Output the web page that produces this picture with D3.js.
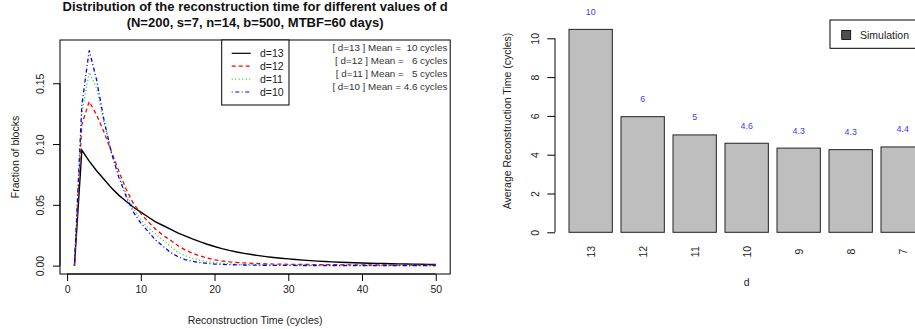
<!DOCTYPE html>
<html>
<head>
<meta charset="utf-8">
<script src="https://cdn.jsdelivr.net/npm/d3@7"></script>
<style>
html,body{margin:0;padding:0;background:#fff;}
svg{display:block;font-family:"Liberation Sans",Arial,sans-serif;}
text{white-space:pre;}
</style>
</head>
<body>
<svg id="chart" width="915" height="329"></svg>
<script>
// ---------- Data: left panel ----------
const times = d3.range(1, 51); // reconstruction time (cycles) 1..50
const d13 = [0,0.095,0.086,0.078,0.071,0.064,0.058,0.053,0.048,0.044,0.040,0.036,0.033,0.030,0.027,0.0245,0.022,0.0197,0.0176,0.0157,0.014,0.0125,0.0112,0.0101,0.0091,0.0082,0.0074,0.0067,0.0061,0.0055,0.0050,0.0045,0.0041,0.0037,0.0034,0.0031,0.0028,0.0026,0.0024,0.0022,0.0020,0.0018,0.0017,0.0015,0.0014,0.0013,0.0012,0.0011,0.0010,0.0009];
const d12 = [0,0.116,0.135,0.124,0.110,0.094,0.078,0.063,0.051,0.043,0.036,0.030,0.025,0.021,0.0165,0.013,0.0102,0.008,0.0062,0.0048,0.0038,0.0031,0.0026,0.0022,0.0019,0.0017,0.0015,0.0013,0.0012,0.0011,0.0010,0.0009,0.0009,0.0008,0.0008,0.0007,0.0007,0.0006,0.0006,0.0006,0.0005,0.0005,0.0005,0.0005,0.0004,0.0004,0.0004,0.0004,0.0004,0.0003];
const d11 = [0,0.125,0.159,0.146,0.118,0.094,0.075,0.059,0.047,0.038,0.031,0.026,0.021,0.016,0.011,0.0082,0.006,0.0044,0.0033,0.0025,0.0019,0.0015,0.0012,0.0010,0.0008,0.0007,0.0006,0.0005,0.0004,0.0004,0.0003,0.0003,0.0003,0.0002,0.0002,0.0002,0.0002,0.0002,0.0002,0.0001,0.0001,0.0001,0.0001,0.0001,0.0001,0.0001,0.0001,0.0001,0.0001,0.0001];
const d10 = [0,0.132,0.177,0.153,0.120,0.093,0.073,0.057,0.044,0.035,0.028,0.021,0.016,0.011,0.0075,0.005,0.0035,0.0025,0.0018,0.0013,0.0010,0.0008,0.0006,0.0005,0.0004,0.0003,0.0003,0.0002,0.0002,0.0002,0.0001,0.0001,0.0001,0.0001,0.0001,0.0001,0.0001,0.0001,0.0001,0.0001,0.0001,0.0001,0.0001,0.0001,0.0001,0.0001,0.0001,0.0001,0.0001,0.0001];
const seriesNames = ["d=13","d=12","d=11","d=10"];
const seriesColors = ["#000000","#ff0000","#22cc22","#0000ff"];
const seriesDash = [null,"4,3","1,2.5","1,2.5,4,2.5"];
const meanLabels = ["[ d=13 ] Mean =  10 cycles","[ d=12 ] Mean =   6 cycles","[ d=11 ] Mean =   5 cycles","[ d=10 ] Mean = 4.6 cycles"];
const xTicksLeft = [0,10,20,30,40,50];
const yTicksLeft = [0,0.05,0.10,0.15];

// ---------- Data: right panel ----------
const dCats = ["13","12","11","10","9","8","7"];
const avgTime = [10.46,5.96,5.02,4.59,4.34,4.26,4.40];
const avgLabels = ["10","6","5","4.6","4.3","4.3","4.4"];
const yTicksRight = [0,2,4,6,8,10];

const svg = d3.select("#chart");
const FS = 10.5;
const FF = "Liberation Sans, Arial, sans-serif";

// ================= LEFT PANEL =================
const L = {left:60, right:450.2, top:40, bottom:274};
const x = d3.scaleLinear().domain([-0.96, 51.96]).range([L.left, L.right]);
const y = d3.scaleLinear().domain([-0.0069, 0.1856]).range([L.bottom, L.top]);

const gL = svg.append("g");
// title
gL.append("text").attr("x",(L.left+L.right)/2).attr("y",10.5).attr("text-anchor","middle")
  .attr("font-weight","bold").attr("font-size",13).attr("fill","#111").text("Distribution of the reconstruction time for different values of d");
gL.append("text").attr("x",(L.left+L.right)/2).attr("y",27).attr("text-anchor","middle")
  .attr("font-weight","bold").attr("font-size",13).attr("fill","#111").text("(N=200, s=7, n=14, b=500, MTBF=60 days)");

// lines
const line = d3.line().x((v,i)=>x(times[i])).y(v=>y(v));
[d13,d12,d11,d10].forEach((s,k)=>{
  gL.append("path").attr("d",line(s)).attr("fill","none")
    .attr("stroke",seriesColors[k]).attr("stroke-width",k===0?1.4:1.3)
    .attr("stroke-dasharray",seriesDash[k]);
});

// box
gL.append("rect").attr("x",L.left).attr("y",L.top).attr("width",L.right-L.left).attr("height",L.bottom-L.top)
  .attr("fill","none").attr("stroke","#000").attr("stroke-width",1);

// x axis
const xAx = gL.append("g").attr("transform",`translate(0,${L.bottom})`)
  .call(d3.axisBottom(x).tickValues(xTicksLeft).tickSize(7).tickPadding(5).tickFormat(d3.format("d")));
xAx.select(".domain").attr("d",`M${x(0)},0H${x(50)}`);
xAx.selectAll("text").attr("font-size",FS).attr("font-family",FF).attr("fill","#222");
// y axis
const yAx = gL.append("g").attr("transform",`translate(${L.left},0)`)
  .call(d3.axisLeft(y).tickValues(yTicksLeft).tickSize(7).tickFormat(d3.format(".2f")));
yAx.select(".domain").attr("d",`M0,${y(0)}V${y(0.15)}`);
yAx.selectAll(".tick text").attr("x",null).attr("dy",null)
  .attr("transform","translate(-20,0) rotate(-90)").attr("text-anchor","middle")
  .attr("dominant-baseline","central")
  .attr("font-size",FS).attr("font-family",FF).attr("fill","#222");

gL.append("text").attr("x",(L.left+L.right)/2).attr("y",324).attr("text-anchor","middle")
  .attr("font-size",FS).attr("fill","#222").text("Reconstruction Time (cycles)");
gL.append("text").attr("transform",`translate(15,${(L.top+L.bottom)/2}) rotate(-90)`).attr("text-anchor","middle")
  .attr("dominant-baseline","central").attr("font-size",FS).attr("fill","#222").text("Fraction of blocks");

// legend
gL.append("rect").attr("x",221.7).attr("y",L.top).attr("width",67.3).attr("height",65)
  .attr("fill","#fff").attr("stroke","#000").attr("stroke-width",1);
seriesNames.forEach((n,k)=>{
  const yy = 53.3 + k*12.9;
  gL.append("line").attr("x1",231.7).attr("x2",250.7).attr("y1",yy).attr("y2",yy)
    .attr("stroke",seriesColors[k]).attr("stroke-width",1.2).attr("stroke-dasharray",seriesDash[k]);
  gL.append("text").attr("x",260).attr("y",yy).attr("dominant-baseline","central")
    .attr("font-size",FS).attr("fill","#222").text(n);
});
meanLabels.forEach((s,k)=>{
  gL.append("text").attr("x",447.3).attr("y",47.7+k*13).attr("text-anchor","end")
    .attr("dominant-baseline","central").attr("font-size",9.8).attr("fill","#333").text(s);
});

// ================= RIGHT PANEL =================
const xb = d3.scaleBand().domain(dCats).range([564.67, 928.67]).paddingInner(0.1667).paddingOuter(0.0833);
const yb = d3.scaleLinear().domain([0,10]).range([232.3, 38.3]);
const gR = svg.append("g");

gR.selectAll("rect.bar").data(avgTime).join("rect").attr("class","bar")
  .attr("x",(v,i)=>xb(dCats[i])).attr("width",xb.bandwidth())
  .attr("y",v=>yb(v)).attr("height",v=>yb(0)-yb(v))
  .attr("fill","#bebebe").attr("stroke","#222").attr("stroke-width",1);

gR.selectAll("text.val").data(avgLabels).join("text").attr("class","val")
  .attr("x",(s,i)=>xb(dCats[i])+xb.bandwidth()/2).attr("y",(s,i)=>yb(avgTime[i])-17.5)
  .attr("text-anchor","middle").attr("dominant-baseline","central")
  .attr("font-size",8.8).attr("fill","#3a3aff").text(s=>s);

// category labels
gR.selectAll("text.cat").data(dCats).join("text").attr("class","cat")
  .attr("transform",c=>`translate(${xb(c)+xb.bandwidth()/2},251.7) rotate(-90)`)
  .attr("text-anchor","middle").attr("dominant-baseline","central")
  .attr("font-size",FS).attr("fill","#222").text(c=>c);

const yAxR = gR.append("g").attr("transform","translate(555,0)")
  .call(d3.axisLeft(yb).tickValues(yTicksRight).tickSize(7.7).tickFormat(d3.format("d")));
yAxR.select(".domain").attr("d",`M0,${yb(0)}V${yb(10)}`);
yAxR.selectAll(".tick text").attr("x",null).attr("dy",null)
  .attr("transform","translate(-20,0) rotate(-90)").attr("text-anchor","middle")
  .attr("dominant-baseline","central")
  .attr("font-size",FS).attr("font-family",FF).attr("fill","#222");

gR.append("text").attr("transform","translate(506.7,121) rotate(-90)").attr("text-anchor","middle")
  .attr("dominant-baseline","central").attr("font-size",FS).attr("fill","#222").text("Average Reconstruction Time (cycles)");
gR.append("text").attr("x",746.7).attr("y",281.7).attr("text-anchor","middle")
  .attr("dominant-baseline","central").attr("font-size",FS).attr("fill","#222").text("d");

// legend
gR.append("rect").attr("x",830).attr("y",20).attr("width",120).attr("height",28.3)
  .attr("fill","#fff").attr("stroke","#000").attr("stroke-width",1);
gR.append("rect").attr("x",841.7).attr("y",30.5).attr("width",9).attr("height",9)
  .attr("fill","#4d4d4d").attr("stroke","#000").attr("stroke-width",0.8);
gR.append("text").attr("x",860).attr("y",35).attr("dominant-baseline","central")
  .attr("font-size",FS).attr("fill","#222").text("Simulation");
</script>
</body>
</html>
